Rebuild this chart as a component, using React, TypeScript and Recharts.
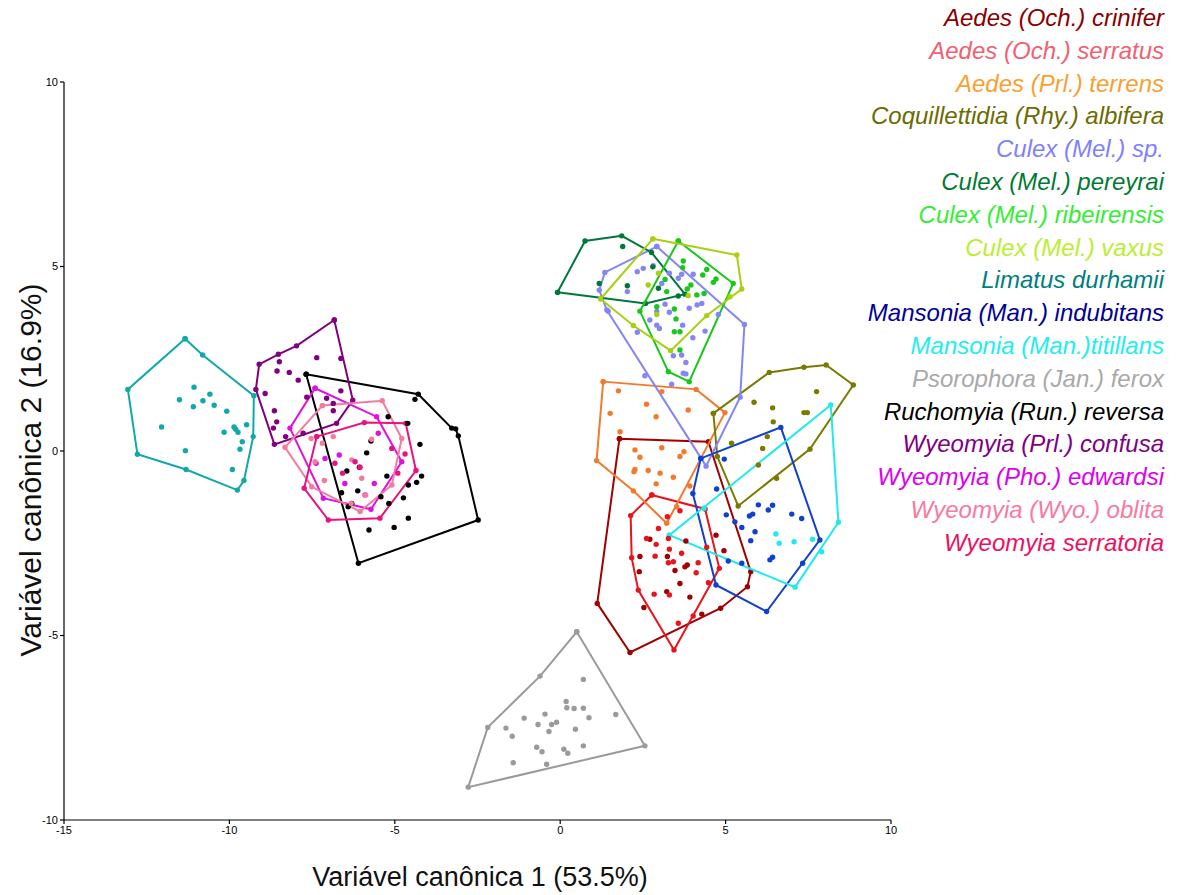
import React from "react";
import { ScatterChart, Scatter, XAxis, YAxis, Legend, Label } from "recharts";

const SPECIES = [
  "Aedes (Och.) crinifer",
  "Aedes (Och.) serratus",
  "Aedes (Prl.) terrens",
  "Coquillettidia (Rhy.) albifera",
  "Culex (Mel.) sp.",
  "Culex (Mel.) pereyrai",
  "Culex (Mel.) ribeirensis",
  "Culex (Mel.) vaxus",
  "Limatus durhamii",
  "Mansonia (Man.) indubitans",
  "Mansonia (Man.)titillans",
  "Psorophora (Jan.) ferox",
  "Ruchomyia (Run.) reversa",
  "Wyeomyia (Prl.) confusa",
  "Wyeomyia (Pho.) edwardsi",
  "Wyeomyia (Wyo.) oblita",
  "Wyeomyia serratoria",
];

const LEGEND_COLORS = [
  "#8b0000", "#f26070", "#f9a030", "#6b6b00", "#7f7fff", "#007a33", "#33ee33", "#bbee33", "#007f7f",
  "#000099", "#22eeee", "#a9a9a9", "#000000", "#800080", "#dd00ee", "#f87aa0", "#ee1060",
];

const SERIES_COLORS = [
  "#a00000", "#e8141c", "#f27a2e", "#7a7a00", "#8585f5", "#00773a", "#18c818", "#a8d010", "#10a8a8",
  "#1040d0", "#22e8f0", "#9a9a9a", "#000000", "#800080", "#e010e0", "#f57aa0", "#e81280",
];

const X_TICKS = [-15, -10, -5, 0, 5, 10];
const Y_TICKS = [-10, -5, 0, 5, 10];

// hull vertices and remaining points, [canonical 1, canonical 2]
const criniferHull = [[1.79, 0.33], [4.48, 0.25], [5.76, -3.27], [5.66, -3.68], [4.85, -4.26], [2.11, -5.46], [1.12, -4.13]];
const criniferPts = [[2.71, -2.39], [3.8, -2.44], [4.71, -2.28], [4.95, -2.7], [2.39, -3.27], [3.24, -2.86], [3.47, -3.24], [3.77, -3.14], [3.84, -3.09], [3.62, -3.59], [3.22, -3.81], [2.53, -4.24], [3.92, -3.96], [4.28, -4.42], [2.41, -2.86]];

const serratusHull = [[2.77, -1.19], [4.38, -1.57], [4.81, -3.18], [3.44, -5.39], [2.36, -3.77], [2.16, -2.89], [2.13, -1.75]];
const serratusPts = [[3.24, -1.78], [3.62, -1.62], [2.97, -2.1], [2.61, -2.37], [3.27, -2.37], [2.9, -2.53], [3.3, -2.66], [2.87, -2.85], [3.67, -2.77], [3.27, -3.03], [3.42, -3.0], [4.17, -3.03], [4.43, -2.61], [4.11, -3.3], [2.84, -3.88], [3.3, -3.9], [4.48, -3.57], [3.57, -4.67], [4.02, -4.47]];

const terrensHull = [[1.3, 1.88], [4.11, 1.67], [4.98, 1.04], [3.22, -1.96], [2.21, -1.08], [1.1, -0.26]];
const terrensPts = [[1.76, 1.63], [3.07, 1.61], [2.61, 1.27], [3.87, 1.11], [1.51, 1.02], [2.9, 0.93], [1.81, 0.52], [2.26, 0.03], [3.07, 0.09], [2.41, -0.17], [3.74, -0.02], [3.62, -0.15], [2.26, -0.5], [2.66, -0.53], [3.02, -0.6], [3.42, -0.71], [2.9, -0.89], [3.92, -0.95], [2.23, -0.56], [3.52, -1.51]];

const albiferaHull = [[4.63, 1.02], [6.32, 2.13], [7.37, 2.27], [8.04, 2.33], [8.86, 1.79], [7.55, 0.05], [5.38, -1.49], [4.75, -0.15]];
const albiferaPts = [[5.86, 1.32], [6.42, 1.17], [6.44, 0.79], [7.75, 1.61], [7.37, 1.04], [7.47, 1.04], [5.18, 0.21], [6.12, 0.07], [6.26, 0.39], [5.99, -0.38], [6.54, -0.74]];

const culexSpHull = [[2.92, 5.54], [5.57, 3.43], [5.44, 1.46], [4.41, -0.41], [1.41, 3.82], [1.18, 4.36], [1.35, 4.84]];
const culexSpPts = [[2.51, 4.95], [2.81, 5.02], [2.03, 4.32], [3.3, 4.82], [3.57, 4.68], [3.67, 4.79], [4.02, 4.79], [3.07, 4.54], [3.17, 3.98], [3.9, 3.87], [4.14, 3.96], [4.28, 4.0], [4.78, 3.7], [2.92, 3.78], [3.3, 3.76], [2.71, 3.55], [2.92, 3.41], [3.0, 3.32], [3.7, 3.41], [2.33, 3.22], [4.01, 3.07], [4.38, 3.25], [3.67, 2.6], [3.8, 2.4], [3.42, 2.58], [3.72, 2.11], [2.56, 2.04], [3.37, 1.81], [2.33, 4.86], [1.45, 3.79], [3.8, 2.09]];

const pereyraiHull = [[-0.08, 4.3], [0.75, 5.69], [1.86, 5.83], [2.76, 5.38], [3.77, 4.25], [2.58, 4.0]];
const pereyraiPts = [[1.89, 5.54], [1.18, 4.54], [2.03, 4.48], [2.8, 4.99], [2.97, 4.41], [3.57, 4.2]];

const ribeirensisHull = [[3.57, 5.69], [5.23, 4.54], [3.9, 1.88], [3.27, 2.15], [2.41, 3.79]];
const ribeirensisPts = [[3.72, 5.15], [3.7, 4.97], [3.17, 4.65], [4.43, 4.92], [4.31, 4.77], [4.71, 4.66], [4.63, 4.57], [3.95, 4.5], [3.84, 4.39], [3.22, 4.32], [4.35, 4.27], [4.13, 4.23], [2.92, 3.91], [3.45, 3.85], [3.5, 3.58], [3.45, 3.23], [3.62, 3.23], [3.62, 2.74]];

const vaxusHull = [[2.8, 5.75], [5.34, 5.31], [5.49, 4.39], [4.43, 3.67], [3.34, 2.72], [2.21, 3.4], [1.22, 4.12]];
const vaxusPts = [[2.97, 4.82], [2.66, 4.5], [3.87, 4.21], [2.92, 3.7], [5.13, 4.18]];

const limatusHull = [[-11.34, 3.04], [-10.81, 2.6], [-9.26, 1.5], [-9.28, 0.39], [-9.56, -0.8], [-9.76, -1.06], [-11.31, -0.5], [-12.78, -0.09], [-13.07, 1.67]];
const limatusPts = [[-11.07, 1.73], [-11.51, 1.39], [-11.09, 1.2], [-10.8, 1.36], [-10.59, 1.54], [-10.46, 1.24], [-10.08, 1.08], [-12.05, 0.65], [-10.16, 0.51], [-9.86, 0.65], [-9.81, 0.59], [-9.74, 0.51], [-9.48, 0.71], [-9.61, 0.25], [-9.68, 0.05], [-11.33, 0.01], [-9.91, -0.5]];

const indubitansHull = [[4.25, -0.2], [6.67, 0.64], [7.85, -2.41], [6.24, -4.35], [4.71, -3.63], [4.01, -1.15]];
const indubitansPts = [[4.96, -0.22], [4.73, -1.03], [5.02, -1.73], [5.28, -1.92], [5.72, -1.76], [5.82, -1.71], [5.99, -1.46], [6.29, -1.6], [6.42, -1.47], [7.0, -1.71], [7.3, -1.83], [5.49, -2.07], [5.89, -2.19], [5.76, -2.43], [5.08, -2.98], [5.49, -3.04], [6.34, -2.95], [6.42, -2.88], [7.33, -3.04]];

const titillansHull = [[3.3, -2.28], [8.18, 1.25], [8.41, -1.93], [7.1, -3.69]];
const titillansPts = [[6.52, -2.25], [6.62, -2.5], [7.07, -2.46], [7.63, -2.39], [7.9, -2.73], [4.35, -1.55]];

const feroxHull = [[0.5, -4.9], [2.56, -7.99], [-2.78, -9.11], [-2.19, -7.49], [-0.61, -6.1]];
const feroxPts = [[0.7, -6.19], [0.18, -6.79], [0.2, -6.96], [0.42, -6.98], [0.7, -6.97], [0.87, -7.23], [1.68, -7.14], [-1.09, -7.24], [-0.46, -7.13], [-0.67, -7.41], [-0.26, -7.41], [-0.11, -7.35], [-0.34, -7.6], [0.46, -7.54], [-1.64, -7.51], [-1.45, -7.73], [-0.71, -8.03], [-0.55, -8.15], [0.11, -8.08], [0.23, -8.19], [0.7, -7.99], [-1.42, -8.45], [-0.41, -8.49]];

const reversaHull = [[-7.68, 2.08], [-4.29, 1.54], [-3.28, 0.62], [-3.16, 0.6], [-3.08, 0.41], [-2.48, -1.87], [-6.1, -3.04]];
const reversaPts = [[-4.39, 1.4], [-5.2, 0.93], [-4.61, 0.75], [-4.24, 0.18], [-5.72, 0.27], [-5.85, -0.05], [-6.07, -0.44], [-6.45, -0.54], [-5.24, -0.68], [-4.19, -0.68], [-4.34, -0.85], [-4.59, -0.92], [-6.61, -1.13], [-6.12, -1.08], [-5.42, -1.24], [-4.74, -1.27], [-5.18, -1.42], [-6.3, -1.42], [-6.41, -1.51], [-4.59, -1.82], [-5.02, -2.07], [-5.78, -2.14]];

const confusaHull = [[-6.83, 3.55], [-6.27, 1.38], [-6.76, 0.75], [-8.64, 0.18], [-9.2, 1.67], [-9.1, 2.35], [-8.52, 2.62], [-7.97, 2.85]];
const confusaPts = [[-8.49, 2.42], [-8.56, 2.17], [-8.19, 2.13], [-7.92, 1.92], [-7.36, 2.53], [-6.63, 2.51], [-8.92, 1.56], [-8.64, 1.09], [-8.57, 0.79], [-8.67, 0.62], [-8.3, 0.39], [-7.66, 1.46], [-7.06, 1.43], [-6.86, 1.09], [-6.63, 1.63], [-6.86, 1.29], [-7.77, 0.48]];

const edwardsiHull = [[-7.41, 1.7], [-5.55, 0.93], [-4.79, -0.29], [-5.72, -1.58], [-7.16, -1.28], [-8.17, 0.62]];
const edwardsiPts = [[-6.68, -0.11], [-7.11, -0.2], [-5.62, -0.88], [-6.51, -0.88], [-5.9, -1.19], [-5.5, 0.48], [-7.38, -0.33]];

const oblitaHull = [[-7.19, 1.23], [-5.38, 1.36], [-4.79, 0.34], [-5.09, -0.92], [-6.05, -1.64], [-7.51, -0.97], [-8.32, 0.1]];
const oblitaPts = [[-7.53, 0.34], [-6.86, 0.39], [-7.19, 0.21], [-7.41, -0.29], [-7.13, -0.8], [-5.7, 0.32], [-6.3, -0.24], [-6.0, -0.74], [-5.88, -1.19], [-6.32, -1.42]];

const serratoriaHull = [[-7.36, 0.39], [-5.92, 0.77], [-4.67, 0.75], [-4.36, -0.53], [-5.45, -1.82], [-7.01, -1.87], [-7.74, -1.01]];
const serratoriaPts = [[-6.81, -0.33], [-6.58, -0.6], [-6.05, -0.44], [-6.2, -0.29], [-4.91, -0.6], [-5.09, 0.07], [-4.69, -0.08]];

const HULLS = [
  criniferHull, serratusHull, terrensHull, albiferaHull, culexSpHull, pereyraiHull, ribeirensisHull, vaxusHull,
  limatusHull, indubitansHull, titillansHull, feroxHull, reversaHull, confusaHull, edwardsiHull, oblitaHull, serratoriaHull,
];
const POINTS = [
  criniferPts, serratusPts, terrensPts, albiferaPts, culexSpPts, pereyraiPts, ribeirensisPts, vaxusPts,
  limatusPts, indubitansPts, titillansPts, feroxPts, reversaPts, confusaPts, edwardsiPts, oblitaPts, serratoriaPts,
];

const toRows = (arr: number[][]) => arr.map(([x, y]) => ({ x, y }));

const tickStyle = { fontSize: 11, fill: "#000", fontFamily: "'Liberation Sans Narrow', 'Liberation Sans', Arial, sans-serif" };

const dot = (color: string) => (props: any) => <circle cx={props.cx} cy={props.cy} r={2.7} fill={color} />;

const renderLegend = () => (
  <div
    style={{
      position: "absolute",
      right: 0,
      top: 0,
      textAlign: "right",
      fontFamily: "'Liberation Sans', Arial, sans-serif",
      fontStyle: "italic",
      fontSize: 24,
    }}
  >
    {SPECIES.map((name, i) => (
      <div key={name} style={{ color: LEGEND_COLORS[i], height: 32.8, lineHeight: "32.8px", whiteSpace: "nowrap" }}>
        {name}
      </div>
    ))}
  </div>
);

export default function App() {
  return (
    <div style={{ position: "absolute", left: 0, top: 0, background: "#fff" }}>
      <ScatterChart width={1180} height={895} margin={{ top: 82, right: 0, bottom: 0, left: 0 }}>
        <XAxis
          type="number"
          dataKey="x"
          domain={[-15, 10]}
          ticks={X_TICKS}
          tick={tickStyle}
          tickSize={4}
          height={75}
          stroke="#000"
          strokeWidth={1.2}
          allowDataOverflow
        >
          <Label
            content={() => (
              <text x={480} y={886} textAnchor="middle" fontSize={27} fill="#111"
                fontFamily="'Liberation Sans', Arial, sans-serif">
                Variável canônica 1 (53.5%)
              </text>
            )}
          />
        </XAxis>
        <YAxis
          type="number"
          dataKey="y"
          domain={[-10, 10]}
          ticks={Y_TICKS}
          tick={tickStyle}
          tickSize={4}
          width={64}
          stroke="#000"
          strokeWidth={1.2}
          allowDataOverflow
        >
          <Label
            content={() => (
              <text x={41} y={470} transform="rotate(-90 41 470)" textAnchor="middle" fontSize={30} fill="#111"
                fontFamily="'Liberation Sans', Arial, sans-serif">
                Variável canônica 2 (16.9%)
              </text>
            )}
          />
        </YAxis>
        <Legend
          layout="vertical"
          align="right"
          verticalAlign="top"
          content={renderLegend}
          wrapperStyle={{ width: 289, height: 560, top: 2, right: 16 }}
        />
        {SPECIES.map((name, i) => (
          <Scatter
            key={name + "-hull"}
            name={name}
            data={toRows([...HULLS[i], HULLS[i][0]])}
            line={{ stroke: SERIES_COLORS[i], strokeWidth: 2 }}
            shape={dot(SERIES_COLORS[i])}
            isAnimationActive={false}
          />
        ))}
        {SPECIES.map((name, i) => (
          <Scatter
            key={name + "-pts"}
            data={toRows(POINTS[i])}
            shape={dot(SERIES_COLORS[i])}
            legendType="none"
            isAnimationActive={false}
          />
        ))}
      </ScatterChart>
    </div>
  );
}
